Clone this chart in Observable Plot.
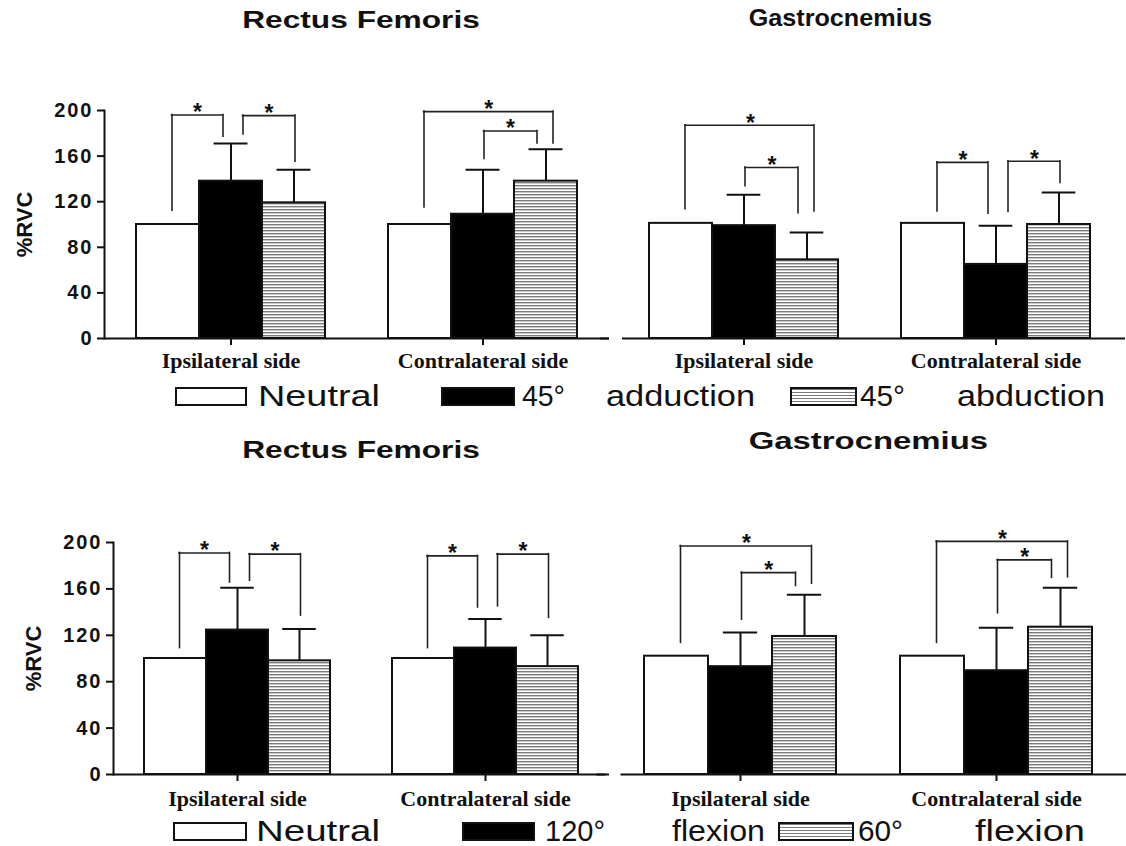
<!DOCTYPE html>
<html>
<head>
<meta charset="utf-8">
<script src="https://cdn.jsdelivr.net/npm/d3@7"></script>
<script src="https://cdn.jsdelivr.net/npm/@observablehq/plot@0.6"></script>
<style>
html, body { margin: 0; padding: 0; background: #fff; }
#fig { position: relative; width: 1126px; height: 846px; overflow: hidden; background: #fff; font-family: "Liberation Sans", Arial, sans-serif; color: #111; }
.panel { position: absolute; }
.panel svg { overflow: visible; background: transparent; }
.title { position: absolute; width: 500px; height: 30px; line-height: 30px; text-align: center; font-weight: bold; font-size: 24px; white-space: nowrap; }
.title span { display: inline-block; transform-origin: center; }
.lbox { position: absolute; height: 15px; border: 2px solid #111; box-sizing: content-box; }
.lword { position: absolute; height: 36px; line-height: 36px; font-size: 30px; white-space: nowrap; transform-origin: left center; }
g[aria-label="y-axis tick label"] { font: bold 20px "Liberation Sans", Arial, sans-serif; letter-spacing: 2px; fill: #111; }
g[aria-label="x-axis tick label"] { font: bold 22px "Liberation Serif", "Times New Roman", serif; fill: #111; }
g[aria-label="y-axis label"] { font: bold 22px "Liberation Sans", Arial, sans-serif; fill: #111; }
</style>
</head>
<body>
<svg width="0" height="0" style="position:absolute">
  <defs>
    <pattern id="hstripes" patternUnits="userSpaceOnUse" width="8" height="3">
      <rect width="8" height="3" fill="#ffffff"></rect>
      <rect width="8" height="1.4" fill="#7a7a7a"></rect>
    </pattern>
  </defs>
</svg>
<div id="fig"></div>
<script>
// ---------------- data ----------------
const sides = ["Ipsilateral side", "Contralateral side"];
const conditionsTop = ["Neutral", "45° adduction", "45° abduction"];
const conditionsBottom = ["Neutral", "120° flexion", "60° flexion"];
const muscles = ["Rectus Femoris", "Gastrocnemius"];
const yTicks = [0, 40, 80, 120, 160, 200];

// means and SD in order: ipsilateral (3 conditions), contralateral (3 conditions)
const rfTopMean = [100, 138, 119, 100, 109, 138];
const rfTopSD   = [0, 33, 29, 0, 39, 28];
const gaTopMean = [101, 99, 69, 101, 65, 100];
const gaTopSD   = [0, 27, 24, 0, 34, 28];
const rfBotMean = [100, 124.5, 98, 100, 109, 93];
const rfBotSD   = [0, 36.5, 27.5, 0, 25, 27];
const gaBotMean = [102, 93, 119, 102, 89.5, 127];
const gaBotSD   = [0, 29.5, 36, 0, 37, 34];

// significance brackets: [side, from condition, to condition, bracket top, left leg end, right leg end]
const rfTopSig = [[0, 0, 1, 196, 112, 177], [0, 1, 2, 195.5, 179, 155], [1, 0, 2, 199, 115, 171], [1, 1, 2, 182, 157.5, 171]];
const gaTopSig = [[0, 0, 2, 187, 113.5, 111.5], [0, 1, 2, 150, 133.5, 110], [1, 0, 1, 154.5, 111.5, 109.5], [1, 1, 2, 155.5, 111, 136.5]];
const rfBotSig = [[0, 0, 1, 191, 109, 165.5], [0, 1, 2, 190, 167, 137], [1, 0, 1, 188.5, 109, 144], [1, 1, 2, 190, 145, 135]];
const gaBotSig = [[0, 0, 2, 197, 113.5, 164.5], [0, 1, 2, 174, 133.5, 162.5], [1, 0, 2, 201, 113.5, 170], [1, 1, 2, 185, 139, 169.5]];

// ---------------- layout / style ----------------
const fills = ["#ffffff", "#000000", "url(#hstripes)"];
const fig = document.getElementById("fig");

const panels = [
  {left: 0, top: 95, width: 615, height: 280, marginLeft: 104, marginRight: 6, marginTop: 15, marginBottom: 37,
   mean: rfTopMean, sd: rfTopSD, sig: rfTopSig, conds: conditionsTop, yAxis: true, baseInset: 0, tickPad: 7},
  {left: 600, top: 95, width: 526, height: 280, marginLeft: 14, marginRight: 1, marginTop: 15, marginBottom: 37,
   mean: gaTopMean, sd: gaTopSD, sig: gaTopSig, conds: conditionsTop, yAxis: false, baseInset: 8, tickPad: 7},
  {left: 0, top: 530, width: 612, height: 284, marginLeft: 113, marginRight: 3, marginTop: 12, marginBottom: 40,
   mean: rfBotMean, sd: rfBotSD, sig: rfBotSig, conds: conditionsBottom, yAxis: true, baseInset: 0, tickPad: 9},
  {left: 600, top: 530, width: 526, height: 284, marginLeft: 10.5, marginRight: 0, marginTop: 12, marginBottom: 40,
   mean: gaBotMean, sd: gaBotSD, sig: gaBotSig, conds: conditionsBottom, yAxis: false, baseInset: 10, tickPad: 9}
];

function legOffsets(sig, s) {
  const [si, a, b, top] = s;
  let offL, offR;
  if (a === 0) offL = 4;
  else offL = sig.some(o => o[0] === si && o[2] === a) ? 12 : 1;
  if (b === 1) {
    offR = sig.some(o => o[0] === si && o[1] === b) ? -8 : 0;
  } else {
    const other = sig.find(o => o !== s && o[0] === si && o[2] === b);
    offR = other ? (top > other[3] ? 7 : -9) : 1;
  }
  return [offL, offR];
}

function drawPanel(p) {
  const keyOf = (si, ci) => `${sides[si]}|${p.conds[ci]}`;
  const domain = [keyOf(0, 0), keyOf(0, 1), keyOf(0, 2), "gap", keyOf(1, 0), keyOf(1, 1), keyOf(1, 2)];
  const rows = [];
  sides.forEach((s, si) => p.conds.forEach((c, ci) =>
    rows.push({key: keyOf(si, ci), ci, mean: p.mean[si * 3 + ci], sd: p.sd[si * 3 + ci]})));
  const step = (p.width - p.marginLeft - p.marginRight) / (domain.length + 1);
  const errRows = rows.filter(d => d.sd > 0);
  const ink = "#111";
  const marks = [];

  p.conds.forEach((c, ci) => marks.push(
    Plot.barY(rows.filter(d => d.ci === ci), {x: "key", y: "mean", fill: fills[ci], stroke: ink, strokeWidth: 2})
  ));
  marks.push(Plot.ruleX(errRows, {x: "key", y1: "mean", y2: d => d.mean + d.sd, stroke: ink, strokeWidth: 2}));
  marks.push(Plot.tickY(errRows, {x: "key", y: d => d.mean + d.sd, stroke: ink, strokeWidth: 2,
    insetLeft: step * 0.23, insetRight: step * 0.23}));

  p.sig.forEach(s => {
    const [si, a, b, top, l, r] = s;
    const [offL, offR] = legOffsets(p.sig, s);
    const d = [{from: keyOf(si, a), to: keyOf(si, b), top, l, r}];
    const st = {stroke: "#222", strokeWidth: 1.6, strokeLinecap: "square"};
    marks.push(Plot.ruleX(d, {x: "from", y1: "l", y2: "top", dx: offL, ...st}));
    marks.push(Plot.ruleX(d, {x: "to", y1: "r", y2: "top", dx: offR, ...st}));
    marks.push(Plot.ruleY(d, {y: "top", x1: "from", x2: "to", insetLeft: step / 2 + offL, insetRight: step / 2 - offR, ...st}));
    marks.push(Plot.text(d, {x: "from", y: "top", text: () => "*", dx: (b - a) * step / 2 + (offL + offR) / 2, dy: -2,
      fontSize: 23, fontWeight: "bold", fontFamily: "Liberation Sans, Arial, sans-serif", fill: "#111"}));
  });

  marks.push(Plot.ruleY([0], {stroke: ink, strokeWidth: 2, insetLeft: p.baseInset}));
  marks.push(Plot.axisX({ticks: [keyOf(0, 1), keyOf(1, 1)], tickFormat: k => k.split("|")[0],
    tickSize: 7, tickPadding: p.tickPad, label: null, stroke: ink, strokeWidth: 2}));
  if (p.yAxis) {
    marks.push(Plot.frame({anchor: "left", stroke: ink, strokeWidth: 2}));
    marks.push(Plot.axisY({ticks: yTicks, tickSize: 7, tickPadding: 4, stroke: ink, strokeWidth: 2,
      label: "%RVC", labelAnchor: "center", labelArrow: "none", labelOffset: 88}));
  } else {
    marks.push(Plot.axisY({ticks: [0], tickSize: 9, tickFormat: () => "", label: null, dx: -5, stroke: ink, strokeWidth: 2}));
  }

  const chart = Plot.plot({
    width: p.width, height: p.height,
    marginLeft: p.marginLeft, marginRight: p.marginRight, marginTop: p.marginTop, marginBottom: p.marginBottom,
    x: {type: "band", domain, padding: 0, paddingInner: 0, paddingOuter: 0.5},
    y: {domain: [0, 200]},
    style: {background: "transparent", overflow: "visible"},
    marks
  });
  const div = document.createElement("div");
  div.className = "panel";
  div.style.left = p.left + "px";
  div.style.top = p.top + "px";
  div.appendChild(chart);
  fig.appendChild(div);
}
panels.forEach(drawPanel);

// titles
const titleLayout = [
  {text: muscles[0], cx: 361, cy: 20, sx: 1.32},
  {text: muscles[1], cx: 840, cy: 18, sx: 1.05},
  {text: muscles[0], cx: 361, cy: 450, sx: 1.32},
  {text: muscles[1], cx: 868, cy: 441, sx: 1.37}
];
titleLayout.forEach(t => {
  const d = document.createElement("div");
  d.className = "title";
  d.style.left = (t.cx - 250) + "px";
  d.style.top = (t.cy - 15) + "px";
  const sp = document.createElement("span");
  sp.textContent = t.text;
  sp.style.transform = `scaleX(${t.sx})`;
  d.appendChild(sp);
  fig.appendChild(d);
});

// legends: [left, width] of swatches, [left, width] of each word
const legendLayout = [
  {conds: conditionsTop, y: 396, boxes: [[175, 68], [441, 70], [790, 63]],
   words: [[[258, 122]], [[522, 43], [606, 149]], [[860, 45], [957, 148]]]},
  {conds: conditionsBottom, y: 831, boxes: [[173, 70], [462, 69], [778, 72]],
   words: [[[256, 124]], [[545, 60], [672, 93]], [[858, 45], [975, 110]]]}
];
const boxBg = ["#ffffff", "#000000", "repeating-linear-gradient(to bottom, #7a7a7a 0 1.4px, #ffffff 1.4px 3px)"];
legendLayout.forEach(L => {
  L.conds.forEach((c, i) => {
    const b = document.createElement("div");
    b.className = "lbox";
    b.style.left = L.boxes[i][0] + "px";
    b.style.width = L.boxes[i][1] + "px";
    b.style.top = (L.y - 9) + "px";
    b.style.background = boxBg[i];
    fig.appendChild(b);
    c.split(" ").forEach((w, j) => {
      const t = document.createElement("div");
      t.className = "lword";
      t.textContent = w;
      t.style.left = L.words[i][j][0] + "px";
      t.style.top = (L.y - 18) + "px";
      fig.appendChild(t);
      const natural = t.getBoundingClientRect().width;
      t.style.transform = `scaleX(${L.words[i][j][1] / natural})`;
    });
  });
});
</script>
</body>
</html>
